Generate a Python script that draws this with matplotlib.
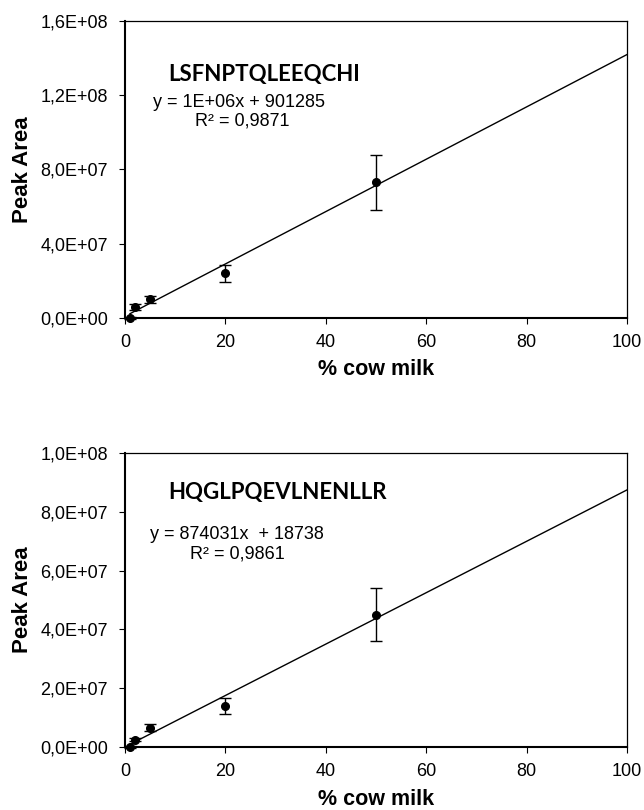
import numpy as np
import matplotlib
matplotlib.use('Agg')
import matplotlib.pyplot as plt

# % cow milk in the mixture
milk = [1, 2, 5, 20, 50]

# LSFNPTQLEEQCHI
area1 = [0.0, 6.0e6, 1.0e7, 2.4e7, 7.3e7]
err1 = [0.3e6, 1.5e6, 2.0e6, 4.7e6, 1.5e7]
slope1, icpt1 = 1.41e6, 901285
eq1 = 'y = 1E+06x + 901285'
r2_1 = 'R² = 0,9871'
yt1 = [0, 4.0e7, 8.0e7, 1.2e8, 1.6e8]
ytl1 = ['0,0E+00', '4,0E+07', '8,0E+07', '1,2E+08', '1,6E+08']

# HQGLPQEVLNENLLR
area2 = [0.0, 2.5e6, 6.5e6, 1.4e7, 4.5e7]
err2 = [0.3e6, 0.6e6, 1.2e6, 2.8e6, 9.0e6]
slope2, icpt2 = 874031, 18738
eq2 = 'y = 874031x  + 18738'
r2_2 = 'R² = 0,9861'
yt2 = [0, 2.0e7, 4.0e7, 6.0e7, 8.0e7, 1.0e8]
ytl2 = ['0,0E+00', '2,0E+07', '4,0E+07', '6,0E+07', '8,0E+07', '1,0E+08']

xt = [0, 20, 40, 60, 80, 100]

plt.rcParams['font.family'] = ['Liberation Sans', 'DejaVu Sans']

fig = plt.figure(figsize=(6.44, 8.10), dpi=100)
ax1 = fig.add_axes([0.194, 0.6074, 0.7795, 0.3667])
ax2 = fig.add_axes([0.194, 0.0778, 0.7795, 0.363])

panels = [
    (ax1, area1, err1, slope1, icpt1, 'LSFNPTQLEEQCHI', eq1, r2_1, yt1, ytl1,
     (0.086, 0.82), (0.056, 0.727), (0.139, 0.664), -0.175),
    (ax2, area2, err2, slope2, icpt2, 'HQGLPQEVLNENLLR', eq2, r2_2, yt2, ytl2,
     (0.086, 0.867), (0.05, 0.722), (0.13, 0.658), -0.18),
]

for ax, ar, er, m, b, name, eq, r2, yt, ytl, tpos, epos, rpos, xly in panels:
    xs = np.array([milk[0], 100])
    ax.plot(xs, m * xs + b, color='black', lw=1)
    ax.errorbar(milk, ar, yerr=er, fmt='o', color='black', ms=5.5,
                capsize=4, elinewidth=1, capthick=1, clip_on=False, zorder=3)
    ax.set_xlim(0, 100)
    ax.set_ylim(yt[0], yt[-1])
    ax.set_xticks(xt)
    ax.set_yticks(yt)
    ax.set_yticklabels(ytl)
    ax.tick_params(direction='out', length=4.3, labelsize=13, top=False, right=False)
    ax.tick_params(axis='x', pad=7.5)
    ax.tick_params(axis='y', pad=8)
    ax.spines['left'].set_linewidth(1.5)
    ax.spines['bottom'].set_linewidth(1.5)
    ax.spines['top'].set_linewidth(0.9)
    ax.spines['right'].set_linewidth(0.9)
    ax.set_xlabel('% cow milk', fontsize=15.5, fontweight='bold', va='center')
    ax.xaxis.set_label_coords(0.5, xly)
    ax.set_ylabel('Peak Area', fontsize=16, fontweight='bold', va='center')
    ax.yaxis.set_label_coords(-0.204, 0.5)
    ax.text(tpos[0], tpos[1], name, transform=ax.transAxes, fontsize=16,
            fontweight='bold', family='Lato', va='center')
    ax.text(epos[0], epos[1], eq, transform=ax.transAxes, fontsize=13, va='center')
    ax.text(rpos[0], rpos[1], r2, transform=ax.transAxes, fontsize=13, va='center')

fig.savefig('out.png', dpi=100)
